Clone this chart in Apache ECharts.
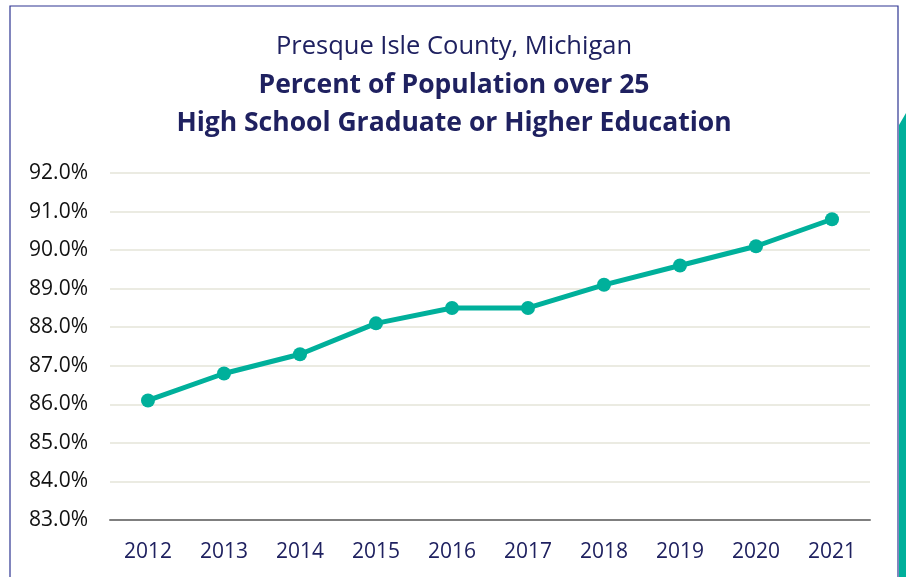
<!DOCTYPE html>
<html>
<head>
<meta charset="utf-8">
<script src="https://cdn.jsdelivr.net/npm/echarts@6/dist/echarts.min.js"></script>
<style>
html,body{margin:0;padding:0;background:#fff;}
#c{width:906px;height:577px;}
</style>
</head>
<body>
<div id="c"></div>
<script>
var years = ['2012','2013','2014','2015','2016','2017','2018','2019','2020','2021'];
var hsGradPct = [86.1, 86.8, 87.3, 88.1, 88.5, 88.5, 89.1, 89.6, 90.1, 90.8];
var titleLines = ['Presque Isle County, Michigan', 'Percent of Population over 25', 'High School Graduate or Higher Education'];

var chart = echarts.init(document.getElementById('c'));
var FONT = 'Open Sans';
var NAVY = '#1f2160';
chart.setOption({
  animation: false,
  backgroundColor: '#ffffff',
  graphic: [
    {type: 'rect', shape: {x: 10, y: 6, width: 888, height: 600}, style: {fill: 'none', stroke: '#2e3592', lineWidth: 1.2}, silent: true},
    {type: 'polygon', shape: {points: [[899, 125], [906, 113], [906, 577], [899, 577]]}, style: {fill: '#00b09b'}, silent: true},
    {type: 'text', x: 454, y: 47, style: {text: titleLines[0], font: '400 25.5px "' + FONT + '"', fill: NAVY, align: 'center', verticalAlign: 'middle'}},
    {type: 'text', x: 454, y: 85, style: {text: titleLines[1], font: '700 26.5px "' + FONT + '"', fill: NAVY, align: 'center', verticalAlign: 'middle'}},
    {type: 'text', x: 454, y: 123, style: {text: titleLines[2], font: '700 26.5px "' + FONT + '"', fill: NAVY, align: 'center', verticalAlign: 'middle'}}
  ],
  grid: {left: 110, right: 36, top: 173, bottom: 57, containLabel: false},
  xAxis: {
    type: 'category',
    data: years,
    boundaryGap: true,
    axisLine: {show: true, lineStyle: {color: '#7f7f7f', width: 2}},
    axisTick: {show: false},
    axisLabel: {color: NAVY, fontFamily: FONT, fontSize: 21, margin: 22}
  },
  yAxis: {
    type: 'value',
    min: 83, max: 92, interval: 1,
    axisLine: {show: false},
    axisTick: {show: false},
    splitLine: {lineStyle: {color: '#ebebe2', width: 2}},
    axisLabel: {color: '#111', fontFamily: FONT, fontSize: 21, margin: 22,
      formatter: function (v) { return v.toFixed(1) + '%'; }}
  },
  series: [{
    type: 'line',
    data: hsGradPct,
    lineStyle: {color: '#00b09b', width: 5},
    itemStyle: {color: '#00b09b'},
    symbol: 'circle',
    symbolSize: 14
  }]
});
</script>
</body>
</html>
